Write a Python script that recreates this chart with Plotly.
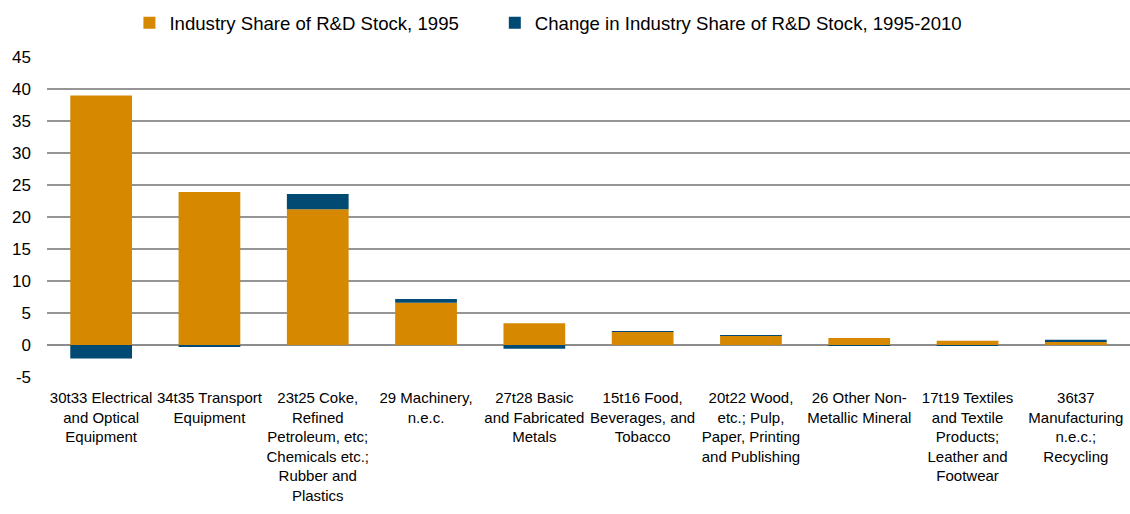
import plotly.graph_objects as go

# industries (ISIC codes) and values
industries = [
    "30t33 Electrical<br>and Optical<br>Equipment",
    "34t35 Transport<br>Equipment",
    "23t25 Coke,<br>Refined<br>Petroleum, etc;<br>Chemicals etc.;<br>Rubber and<br>Plastics",
    "29 Machinery,<br>n.e.c.",
    "27t28 Basic<br>and Fabricated<br>Metals",
    "15t16 Food,<br>Beverages, and<br>Tobacco",
    "20t22 Wood,<br>etc.; Pulp,<br>Paper, Printing<br>and Publishing",
    "26 Other Non-<br>Metallic Mineral",
    "17t19 Textiles<br>and Textile<br>Products;<br>Leather and<br>Footwear",
    "36t37<br>Manufacturing<br>n.e.c.;<br>Recycling",
]
share_1995 = [39.0, 23.9, 21.2, 6.6, 3.4, 2.1, 1.45, 1.1, 0.68, 0.52]
change_95_10 = [-2.1, -0.2, 2.4, 0.6, -0.6, 0.03, 0.1, -0.03, -0.03, 0.3]

y_ticks = [-5, 0, 5, 10, 15, 20, 25, 30, 35, 40, 45]
y_labels = ["-5", "0", "5", "10", "15", "20", "25", "30", "35", "40", "45"]

orange = "#D58800"
navy = "#004A73"

fig = go.Figure()
# trailing no-break spaces widen the gap between the two legend entries
fig.add_trace(go.Bar(x=industries, y=share_1995, name="Industry Share of R&D Stock, 1995" + "\u00a0" * 6,
                     marker=dict(color=orange, line=dict(width=0))))
fig.add_trace(go.Bar(x=industries, y=change_95_10, name="Change in Industry Share of R&D Stock, 1995-2010",
                     marker=dict(color=navy, line=dict(width=0))))

fig.update_layout(
    barmode="relative",
    bargap=0.43,
    width=1130, height=514,
    margin=dict(l=47, r=0, t=57, b=137),
    plot_bgcolor="white", paper_bgcolor="white",
    font=dict(family="Liberation Sans, Arial", size=15, color="#000000"),
    legend=dict(orientation="h", x=0.463, xanchor="center", y=1.106, yanchor="middle",
                font=dict(size=18.6), itemwidth=30, traceorder="normal"),
    showlegend=True,
)
fig.update_yaxes(range=[-5, 45], tickvals=y_ticks, ticktext=y_labels,
                 showgrid=True, gridcolor="#959595", gridwidth=1.5,
                 zeroline=True, zerolinecolor="#8c8c8c", zerolinewidth=2,
                 ticks="", tickfont=dict(size=17), ticklabelstandoff=15)
fig.update_xaxes(showgrid=False, ticks="", tickangle=0, tickfont=dict(size=15),
                 ticklabelstandoff=10)

# drop the page's default body margin so the figure sits at the window origin
fig.write_html("out.html", config={"displayModeBar": False},
               post_script="document.body.style.margin='0';")
